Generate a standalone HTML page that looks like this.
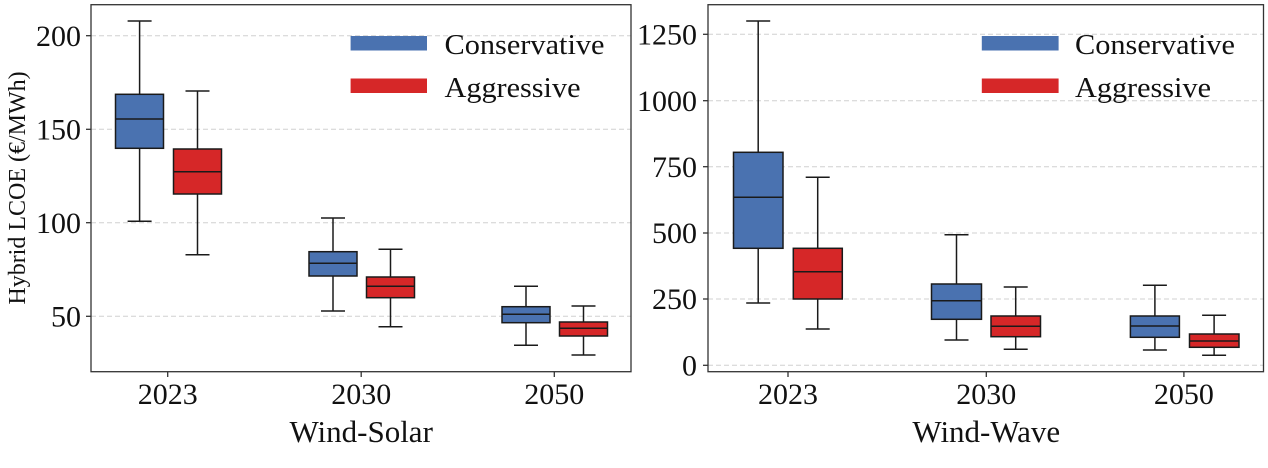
<!DOCTYPE html>
<html><head><meta charset="utf-8"><style>
html,body{margin:0;padding:0;background:#fff;}
svg{display:block;font-family:"Liberation Serif","DejaVu Serif",serif;}
</style></head><body>
<svg width="1268" height="468" viewBox="0 0 1268 468" xmlns="http://www.w3.org/2000/svg">
<g stroke="#d0d0d0" stroke-width="1" stroke-dasharray="5,3">
<line x1="91" x2="631" y1="35.7" y2="35.7"/><line x1="91" x2="631" y1="129.3" y2="129.3"/>
<line x1="91" x2="631" y1="222.7" y2="222.7"/><line x1="91" x2="631" y1="316.3" y2="316.3"/>
<line x1="708" x2="1263" y1="34.3" y2="34.3"/><line x1="708" x2="1263" y1="100.7" y2="100.7"/>
<line x1="708" x2="1263" y1="166.7" y2="166.7"/><line x1="708" x2="1263" y1="233" y2="233"/>
<line x1="708" x2="1263" y1="299" y2="299"/><line x1="708" x2="1263" y1="365.3" y2="365.3"/>
</g>
<g stroke="#1a1a1a" stroke-width="1.5">
<g fill="#4a72b0">
<line x1="139.6" x2="139.6" y1="21" y2="94.3"/><line x1="139.6" x2="139.6" y1="148.3" y2="221.3"/>
<line x1="127.6" x2="151.6" y1="21" y2="21"/><line x1="127.6" x2="151.6" y1="221.3" y2="221.3"/>
<rect x="115.5" y="94.3" width="48" height="54"/><line x1="115.5" x2="163.5" y1="119" y2="119"/>
<line x1="333" x2="333" y1="218" y2="251.7"/><line x1="333" x2="333" y1="276" y2="311"/>
<line x1="321" x2="345" y1="218" y2="218"/><line x1="321" x2="345" y1="311" y2="311"/>
<rect x="309" y="251.7" width="48" height="24.3"/><line x1="309" x2="357" y1="263.3" y2="263.3"/>
<line x1="526" x2="526" y1="286.3" y2="306.7"/><line x1="526" x2="526" y1="322.7" y2="345.3"/>
<line x1="514" x2="538" y1="286.3" y2="286.3"/><line x1="514" x2="538" y1="345.3" y2="345.3"/>
<rect x="502" y="306.7" width="48" height="16"/><line x1="502" x2="550" y1="314.3" y2="314.3"/>
</g>
<g fill="#d62728">
<line x1="197.5" x2="197.5" y1="91" y2="149"/><line x1="197.5" x2="197.5" y1="194" y2="254.7"/>
<line x1="185.5" x2="209.5" y1="91" y2="91"/><line x1="185.5" x2="209.5" y1="254.7" y2="254.7"/>
<rect x="173.5" y="149" width="48" height="45"/><line x1="173.5" x2="221.5" y1="171.7" y2="171.7"/>
<line x1="390.5" x2="390.5" y1="249.3" y2="277"/><line x1="390.5" x2="390.5" y1="297.7" y2="326.7"/>
<line x1="378.5" x2="402.5" y1="249.3" y2="249.3"/><line x1="378.5" x2="402.5" y1="326.7" y2="326.7"/>
<rect x="366.5" y="277" width="48" height="20.7"/><line x1="366.5" x2="414.5" y1="286.3" y2="286.3"/>
<line x1="583.5" x2="583.5" y1="306" y2="322"/><line x1="583.5" x2="583.5" y1="336" y2="355"/>
<line x1="571.5" x2="595.5" y1="306" y2="306"/><line x1="571.5" x2="595.5" y1="355" y2="355"/>
<rect x="559.5" y="322" width="48" height="14"/><line x1="559.5" x2="607.5" y1="328.3" y2="328.3"/>
</g>
<g fill="#4a72b0">
<line x1="758.2" x2="758.2" y1="21" y2="152.3"/><line x1="758.2" x2="758.2" y1="248.3" y2="303"/>
<line x1="746.2" x2="770.2" y1="21" y2="21"/><line x1="746.2" x2="770.2" y1="303" y2="303"/>
<rect x="733.5" y="152.3" width="49.5" height="96"/><line x1="733.5" x2="783" y1="197.3" y2="197.3"/>
<line x1="956.5" x2="956.5" y1="234.7" y2="284"/><line x1="956.5" x2="956.5" y1="319.3" y2="340"/>
<line x1="944.5" x2="968.5" y1="234.7" y2="234.7"/><line x1="944.5" x2="968.5" y1="340" y2="340"/>
<rect x="931.5" y="284" width="50" height="35.3"/><line x1="931.5" x2="981.5" y1="300.7" y2="300.7"/>
<line x1="1154.9" x2="1154.9" y1="285.3" y2="316"/><line x1="1154.9" x2="1154.9" y1="337.3" y2="350"/>
<line x1="1142.9" x2="1166.9" y1="285.3" y2="285.3"/><line x1="1142.9" x2="1166.9" y1="350" y2="350"/>
<rect x="1130.4" y="316" width="49" height="21.3"/><line x1="1130.4" x2="1179.4" y1="326" y2="326"/>
</g>
<g fill="#d62728">
<line x1="817.7" x2="817.7" y1="177.3" y2="248.3"/><line x1="817.7" x2="817.7" y1="299" y2="329"/>
<line x1="805.7" x2="829.7" y1="177.3" y2="177.3"/><line x1="805.7" x2="829.7" y1="329" y2="329"/>
<rect x="793.3" y="248.3" width="49" height="50.7"/><line x1="793.3" x2="842.3" y1="271.7" y2="271.7"/>
<line x1="1015.7" x2="1015.7" y1="287" y2="316"/><line x1="1015.7" x2="1015.7" y1="336.7" y2="349.3"/>
<line x1="1003.7" x2="1027.7" y1="287" y2="287"/><line x1="1003.7" x2="1027.7" y1="349.3" y2="349.3"/>
<rect x="991" y="316" width="49.5" height="20.7"/><line x1="991" x2="1040.5" y1="326.3" y2="326.3"/>
<line x1="1214.1" x2="1214.1" y1="315.3" y2="334"/><line x1="1214.1" x2="1214.1" y1="347.3" y2="355.3"/>
<line x1="1202.1" x2="1226.1" y1="315.3" y2="315.3"/><line x1="1202.1" x2="1226.1" y1="355.3" y2="355.3"/>
<rect x="1189.5" y="334" width="49.5" height="13.3"/><line x1="1189.5" x2="1239" y1="341" y2="341"/>
</g>
</g>
<g fill="none" stroke="#333" stroke-width="1.3">
<rect x="91" y="4.7" width="540" height="367"/>
<rect x="708" y="4.7" width="555.5" height="367"/>
<line x1="167.7" x2="167.7" y1="371.7" y2="377"/><line x1="361.2" x2="361.2" y1="371.7" y2="377"/><line x1="554.3" x2="554.3" y1="371.7" y2="377"/>
<line x1="788" x2="788" y1="371.7" y2="377"/><line x1="986.3" x2="986.3" y1="371.7" y2="377"/><line x1="1183.9" x2="1183.9" y1="371.7" y2="377"/>
<line x1="86" x2="91" y1="35.7" y2="35.7"/><line x1="86" x2="91" y1="129.3" y2="129.3"/><line x1="86" x2="91" y1="222.7" y2="222.7"/><line x1="86" x2="91" y1="316.3" y2="316.3"/>
<line x1="703" x2="708" y1="34.3" y2="34.3"/><line x1="703" x2="708" y1="100.7" y2="100.7"/><line x1="703" x2="708" y1="166.7" y2="166.7"/><line x1="703" x2="708" y1="233" y2="233"/><line x1="703" x2="708" y1="299" y2="299"/><line x1="703" x2="708" y1="365.3" y2="365.3"/>
</g>
<g font-size="30" fill="#111" text-anchor="end">
<text x="81" y="46">200</text><text x="81" y="139.5">150</text><text x="81" y="233">100</text><text x="81" y="326.5">50</text>
<text x="697" y="44.5">1250</text><text x="697" y="111">1000</text><text x="697" y="177">750</text><text x="697" y="243">500</text><text x="697" y="309">250</text><text x="697" y="375.5">0</text>
</g>
<g font-size="30" fill="#111" text-anchor="middle">
<text x="167.7" y="404">2023</text><text x="361.2" y="404">2030</text><text x="554.3" y="404">2050</text>
<text x="788" y="404">2023</text><text x="986.3" y="404">2030</text><text x="1183.9" y="404">2050</text>
<text x="361.2" y="442" font-size="31">Wind-Solar</text><text x="986.3" y="442" font-size="31">Wind-Wave</text>
<text transform="translate(25,188) rotate(-90)" font-size="24">Hybrid LCOE (€/MWh)</text>
</g>
<rect x="350.6" y="36" width="76.4" height="14.5" fill="#4a72b0"/>
<rect x="350.6" y="78.5" width="76.4" height="14.5" fill="#d62728"/>
<rect x="981.8" y="36" width="76.8" height="14.5" fill="#4a72b0"/>
<rect x="981.8" y="78.5" width="76.8" height="14.5" fill="#d62728"/>
<g font-size="29" fill="#111">
<text x="444.5" y="54" textLength="160" lengthAdjust="spacingAndGlyphs">Conservative</text>
<text x="444.5" y="97" textLength="136" lengthAdjust="spacingAndGlyphs">Aggressive</text>
<text x="1075" y="54" textLength="160" lengthAdjust="spacingAndGlyphs">Conservative</text>
<text x="1075" y="97" textLength="136" lengthAdjust="spacingAndGlyphs">Aggressive</text>
</g>
</svg>
</body></html>
